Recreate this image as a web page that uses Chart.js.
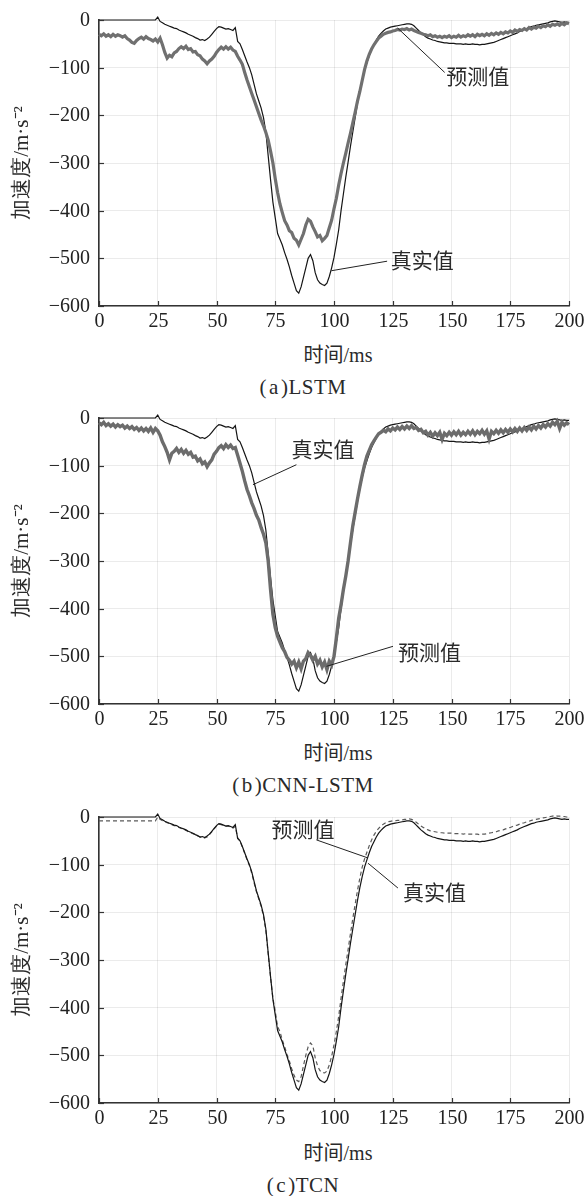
<!DOCTYPE html>
<html>
<head>
<meta charset="utf-8">
<script src="https://cdn.jsdelivr.net/npm/chart.js@4.4.1/dist/chart.umd.min.js"></script>
<style>
  body { margin: 0; background: #fff; }
  #wrap { position: relative; width: 586px; height: 1196px; }
  canvas { position: absolute; left: 0; }
  .lbl { position: absolute; transform: translateX(-50%); white-space: nowrap;
         font-family: "Liberation Serif", "Noto Sans CJK SC", serif; font-size: 20px;
         line-height: 24px; color: #2a2a2a; }
  .cap { font-size: 21px; letter-spacing: 0.5px; }
  .cap span { margin: 0 2px; }
</style>
</head>
<body>
<div id="wrap">
  <canvas id="lstm" width="586" height="336" style="top:0px"></canvas>
  <div class="lbl" style="left:338px;top:343px">时间/ms</div>
  <div class="lbl cap" style="left:303px;top:375px">(<span>a</span>)LSTM</div>

  <canvas id="cnn" width="586" height="336" style="top:398px"></canvas>
  <div class="lbl" style="left:338px;top:741px">时间/ms</div>
  <div class="lbl cap" style="left:303px;top:773px">(<span>b</span>)CNN-LSTM</div>

  <canvas id="tcn" width="586" height="336" style="top:797px"></canvas>
  <div class="lbl" style="left:338px;top:1141px">时间/ms</div>
  <div class="lbl cap" style="left:303px;top:1173px">(<span>c</span>)TCN</div>
</div>
<script>
// one sample per ms, t = 0..200
const realAccel = [
  0,0,0,0,0, 0,0,0,0,0, 0,0,0,0,0, 0,0,0,0,0, 0,0,0,0,0,
  6,-3,-6,-9,-11, -13,-15,-17,-18,-21, -23,-25,-27,-30,-32, -34,-37,-39,-42,-41,
  -43,-40,-36,-30,-24, -18,-14,-15,-17,-19, -18,-20,-22,-16,-45, -50,-62,-75,-88,-100,
  -115,-135,-155,-170,-185, -205,-235,-285,-335,-382, -415,-448,-460,-472,-488,
  -502,-518,-536,-552,-568, -573,-560,-540,-520,-500, -492,-505,-530,-545,-552,
  -555,-557,-552,-538,-520, -498,-470,-440,-400,-365, -330,-298,-265,-235,-205,
  -175,-148,-125,-105,-90, -75,-62,-52,-42,-34, -28,-23,-19,-17,-15, -14,-13,-12,-11,-10,
  -9,-8,-8,-9,-12, -17,-22,-27,-31,-35, -38,-40,-42,-43,-45, -46,-47,-48,-48,-49,
  -49,-49,-50,-50,-50, -51,-50,-51,-51,-50, -51,-51,-52,-51,-51, -50,-49,-48,-47,-45,
  -43,-41,-39,-37,-35, -33,-31,-29,-27,-24, -22,-20,-18,-16,-14, -13,-11,-10,-9,-8,
  -7,-6,-4,-3,-2, -3,-4,-5,-4,-5, -5
];

const predLSTM = [
  -30,-33,-29,-34,-31, -35,-30,-34,-31,-33, -36,-33,-39,-42,-47, -49,-43,-39,-36,-40,
  -35,-39,-41,-44,-40, -46,-38,-52,-68,-80, -74,-77,-69,-66,-60, -56,-60,-55,-62,-60,
  -67,-66,-73,-75,-82, -86,-92,-86,-82,-76, -68,-62,-57,-61,-56, -61,-57,-63,-66,-76,
  -84,-93,-110,-126,-140, -154,-168,-182,-196,-210, -222,-236,-252,-275,-300,
  -333,-362,-386,-404,-421, -430,-442,-446,-458,-462, -472,-460,-448,-430,-418,
  -422,-434,-444,-455,-452, -463,-458,-452,-436,-420, -396,-374,-346,-322,-300,
  -280,-258,-238,-216,-194, -170,-150,-127,-104,-86, -72,-61,-52,-45,-38,
  -34,-30,-28,-26,-25, -23,-22,-20,-21,-19, -20,-18,-21,-19,-22, -24,-26,-28,-30,-31,
  -33,-31,-35,-33,-36, -34,-37,-34,-36,-33, -37,-34,-36,-32,-36, -33,-35,-31,-34,-31,
  -35,-30,-33,-30,-33, -29,-32,-28,-31,-27, -30,-26,-29,-25,-27, -23,-26,-21,-24,-20,
  -22,-18,-21,-16,-19, -15,-17,-13,-16,-12, -14,-10,-13,-9,-11, -8,-11,-7,-10,-6, -8
];

const predCNNLSTM = [
  -10,-14,-9,-16,-12, -17,-13,-19,-14,-18, -15,-21,-17,-22,-18, -24,-20,-26,-21,-27,
  -22,-28,-21,-30,-22, -27,-36,-50,-60,-72, -88,-74,-70,-64,-72, -66,-74,-68,-76,-72,
  -82,-80,-90,-86,-96, -92,-102,-94,-88,-76, -70,-62,-58,-64,-56, -62,-57,-64,-62,-78,
  -95,-112,-132,-150,-163, -178,-190,-204,-214,-230, -244,-262,-300,-360,-412,
  -440,-458,-470,-482,-490, -502,-508,-516,-510,-524, -512,-526,-510,-505,-492,
  -498,-508,-500,-516,-508, -522,-512,-528,-510,-518, -500,-462,-420,-392,-360,
  -332,-300,-262,-226,-198, -170,-144,-120,-98,-80, -68,-56,-48,-40,-33,
  -30,-26,-29,-23,-27, -21,-25,-19,-24,-18, -23,-17,-22,-16,-22, -20,-26,-24,-31,-28,
  -36,-30,-38,-31,-37, -30,-45,-32,-37,-30, -36,-29,-35,-28,-36, -30,-35,-28,-34,-27,
  -35,-28,-33,-26,-34, -27,-44,-28,-33,-26, -32,-25,-31,-24,-30, -23,-29,-22,-28,-21,
  -27,-20,-26,-19,-25, -17,-23,-16,-21,-14, -19,-12,-17,-9,-14, -7,-22,-9,-15,-10, -14
];

const predTCN = [
  -8,-8,-8,-8,-8, -8,-8,-8,-8,-8, -8,-8,-8,-8,-8, -8,-8,-8,-8,-8, -8,-8,-8,-8,-8,
  0,-5,-8,-10,-12, -14,-16,-18,-19,-22, -24,-26,-28,-31,-33, -35,-37,-40,-42,-43,
  -44,-42,-37,-31,-25, -19,-15,-16,-18,-19, -19,-21,-23,-20,-44, -50,-63,-76,-90,-102,
  -118,-138,-157,-172,-188, -208,-238,-288,-336,-380, -408,-440,-450,-468,-482,
  -498,-512,-528,-542,-552, -555,-545,-522,-500,-482, -474,-480,-505,-522,-532,
  -536,-537,-533,-520,-502, -478,-450,-418,-380,-345, -310,-278,-245,-213,-183,
  -154,-128,-105,-88,-74, -60,-48,-38,-30,-24, -19,-15,-12,-10,-9, -8,-8,-7,-7,-6,
  -5,-5,-4,-5,-7, -11,-15,-19,-22,-25, -27,-29,-30,-31,-32, -33,-33,-34,-34,-34,
  -34,-35,-35,-35,-35, -36,-35,-36,-36,-36, -36,-36,-37,-36,-36, -35,-34,-33,-32,-31,
  -29,-28,-27,-25,-23, -22,-20,-18,-17,-15, -13,-12,-10,-9,-7, -6,-5,-4,-3,-2,
  -1,0,1,2,3, 2,2,1,1,0, 0
];

const xTicks = [0, 25, 50, 75, 100, 125, 150, 175, 200];
const yTicks = [0, -100, -200, -300, -400, -500, -600];
const yTitle = '加速度/m·s⁻²';

function points(arr) {
  return arr.map((v, i) => ({x: i, y: v}));
}

function tickText(v) {
  return v < 0 ? '\u2212' + Math.abs(v) : String(v);
}

// tick labels, y title, inward tick marks and leader-line labels
const axisMarks = {
  id: 'axisMarks',
  afterDraw(chart, args, opts) {
    const {ctx, chartArea, scales: {x, y}} = chart;
    ctx.save();
    ctx.strokeStyle = '#333';
    ctx.lineWidth = 1.2;
    ctx.fillStyle = '#222';
    ctx.font = '20px "Liberation Serif"';
    xTicks.forEach(t => {
      const px = Math.round(x.getPixelForValue(t)) + 0.5;
      ctx.beginPath(); ctx.moveTo(px, chartArea.bottom); ctx.lineTo(px, chartArea.bottom - 5); ctx.stroke();
      ctx.textAlign = 'center';
      ctx.textBaseline = 'middle';
      ctx.fillText(tickText(t), px, chartArea.bottom + 16);
    });
    yTicks.forEach(t => {
      const py = Math.round(y.getPixelForValue(t)) + 0.5;
      ctx.beginPath(); ctx.moveTo(chartArea.left, py); ctx.lineTo(chartArea.left + 5, py); ctx.stroke();
      ctx.textAlign = 'right';
      ctx.textBaseline = 'middle';
      ctx.fillText(tickText(t), chartArea.left - 9, py);
    });

    ctx.save();
    ctx.translate(22, (chartArea.top + chartArea.bottom) / 2);
    ctx.rotate(-Math.PI / 2);
    ctx.font = '21px "Liberation Serif"';
    ctx.fillStyle = '#2a2a2a';
    ctx.textAlign = 'center';
    ctx.textBaseline = 'middle';
    ctx.fillText(yTitle, 0, 0);
    ctx.restore();

    (opts.notes || []).forEach(n => {
      ctx.strokeStyle = '#222';
      ctx.lineWidth = 1;
      ctx.beginPath();
      ctx.moveTo(x.getPixelForValue(n.from[0]), y.getPixelForValue(n.from[1]));
      ctx.lineTo(x.getPixelForValue(n.to[0]), y.getPixelForValue(n.to[1]));
      ctx.stroke();
      ctx.font = '21px "Noto Sans CJK SC"';
      ctx.fillStyle = '#2a2a2a';
      ctx.textBaseline = 'middle';
      ctx.textAlign = 'left';
      ctx.fillText(n.text, x.getPixelForValue(n.at[0]), y.getPixelForValue(n.at[1]));
    });
    ctx.restore();
  }
};

function makeConfig(datasets, notes) {
  return {
    type: 'line',
    data: {datasets: datasets},
    plugins: [axisMarks],
    options: {
      responsive: false,
      animation: false,
      layout: {padding: {top: 20, right: 17, left: 0, bottom: 0}},
      elements: {point: {radius: 0}, line: {tension: 0}},
      plugins: {
        legend: {display: false},
        tooltip: {enabled: false},
        axisMarks: {notes: notes}
      },
      scales: {
        x: {
          type: 'linear',
          min: 0,
          max: 200,
          afterFit: s => { s.height = 30; },
          afterBuildTicks: s => { s.ticks = xTicks.map(v => ({value: v})); },
          grid: {color: 'rgba(0,0,0,0.08)', borderDash: [1, 5], drawTicks: false},
          border: {color: '#333', width: 1.6},
          ticks: {display: false}
        },
        y: {
          min: -600,
          max: 0,
          afterFit: s => { s.width = 99; },
          afterBuildTicks: s => { s.ticks = yTicks.map(v => ({value: v})); },
          grid: {color: 'rgba(0,0,0,0.08)', borderDash: [1, 5], drawTicks: false},
          border: {color: '#333', width: 1.6},
          ticks: {display: false}
        }
      }
    }
  };
}

const realLine = () => ({
  data: points(realAccel), label: '真实值',
  borderColor: '#151515', borderWidth: 1.2, clip: 8
});

var chartA = new Chart(document.getElementById('lstm').getContext('2d'), makeConfig([
  {data: points(predLSTM), label: '预测值', borderColor: '#707070', borderWidth: 3.2, clip: 8},
  realLine()
], [
  {text: '预测值', from: [127.1, -17], to: [147.1, -110], at: [147.8, -117]},
  {text: '真实值', from: [98.9, -526], to: [122.6, -506], at: [124.2, -503]}
]));

var chartB = new Chart(document.getElementById('cnn').getContext('2d'), makeConfig([
  {data: points(predCNNLSTM), label: '预测值', borderColor: '#6c6c6c', borderWidth: 3.4, clip: 8},
  realLine()
], [
  {text: '真实值', from: [65.5, -140], to: [84, -98], at: [81.9, -65]},
  {text: '预测值', from: [96.8, -521], to: [125.1, -479], at: [127.2, -490]}
]));

var chartC = new Chart(document.getElementById('tcn').getContext('2d'), makeConfig([
  realLine(),
  {data: points(predTCN), label: '预测值', borderColor: '#5a5a5a', borderWidth: 1.2, borderDash: [4, 3], clip: 8}
], [
  {text: '预测值', from: [92.5, -48], to: [114.5, -86], at: [73.4, -25]},
  {text: '真实值', from: [114.5, -97], to: [127.2, -149], at: [129.4, -158]}
]));

// draw once more after the serif face is surely in
setTimeout(() => { chartA.draw(); chartB.draw(); chartC.draw(); }, 300);
</script>
</body>
</html>
